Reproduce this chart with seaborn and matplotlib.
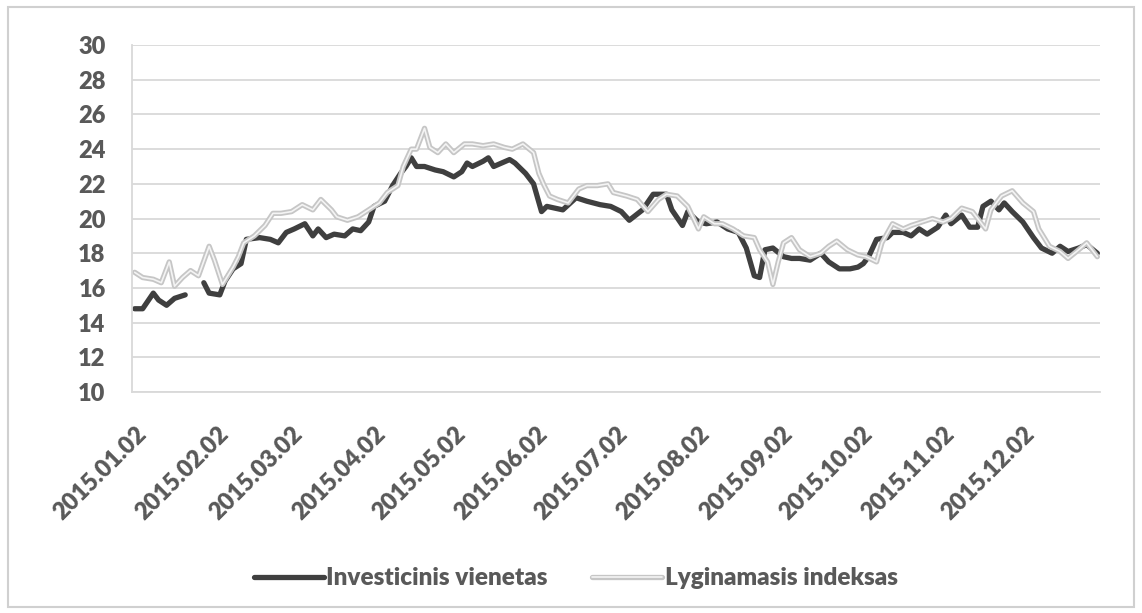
import pandas as pd
import numpy as np
import matplotlib
matplotlib.use("Agg")
import matplotlib.pyplot as plt
import matplotlib.patheffects as pe
import matplotlib.dates as mdates
from matplotlib.patches import Rectangle
import seaborn as sns

# Investicinis vienetas (dark line), NaN = missing data gap
fund_dates = ["2015-01-02", "2015-01-05", "2015-01-09", "2015-01-11", "2015-01-14", "2015-01-17",
              "2015-01-21", "2015-01-24", "2015-01-28", "2015-01-30", "2015-02-03", "2015-02-05",
              "2015-02-08", "2015-02-11", "2015-02-13", "2015-02-18", "2015-02-22", "2015-02-25",
              "2015-02-28", "2015-03-03", "2015-03-07", "2015-03-10", "2015-03-12", "2015-03-15",
              "2015-03-18", "2015-03-22", "2015-03-25", "2015-03-28", "2015-03-31", "2015-04-02",
              "2015-04-06", "2015-04-09", "2015-04-12", "2015-04-14", "2015-04-16", "2015-04-18",
              "2015-04-21", "2015-04-25", "2015-04-28", "2015-05-02", "2015-05-05", "2015-05-07",
              "2015-05-09", "2015-05-13", "2015-05-15", "2015-05-17", "2015-05-20", "2015-05-23",
              "2015-05-25", "2015-05-29", "2015-06-01", "2015-06-04", "2015-06-06", "2015-06-09",
              "2015-06-12", "2015-06-17", "2015-06-21", "2015-06-26", "2015-06-30", "2015-07-04",
              "2015-07-07", "2015-07-12", "2015-07-16", "2015-07-21", "2015-07-23", "2015-07-27",
              "2015-07-29", "2015-08-02", "2015-08-05", "2015-08-09", "2015-08-13", "2015-08-17",
              "2015-08-20", "2015-08-23", "2015-08-25", "2015-08-27", "2015-08-30", "2015-09-03",
              "2015-09-06", "2015-09-09", "2015-09-13", "2015-09-17", "2015-09-20", "2015-09-24",
              "2015-09-28", "2015-10-01", "2015-10-03", "2015-10-05", "2015-10-08", "2015-10-12",
              "2015-10-14", "2015-10-18", "2015-10-21", "2015-10-24", "2015-10-27", "2015-10-31",
              "2015-11-03", "2015-11-05", "2015-11-09", "2015-11-12", "2015-11-15", "2015-11-17",
              "2015-11-20", "2015-11-23", "2015-11-25", "2015-11-28", "2015-12-02", "2015-12-06",
              "2015-12-09", "2015-12-13", "2015-12-16", "2015-12-19", "2015-12-23", "2015-12-26",
              "2015-12-30"]
fund_values = [14.8, 14.8, 15.7, 15.3, 15.0, 15.4,
               15.6, np.nan, 16.3, 15.7, 15.6, 16.4,
               17.1, 17.4, 18.8, 18.9, 18.8, 18.6,
               19.2, 19.4, 19.7, 19.0, 19.4, 18.9,
               19.1, 19.0, 19.4, 19.3, 19.8, 20.7,
               21.0, 21.9, 22.6, 23.0, 23.5, 23.0,
               23.0, 22.8, 22.7, 22.4, 22.7, 23.2,
               23.0, 23.3, 23.5, 23.0, 23.2, 23.4,
               23.2, 22.6, 22.0, 20.4, 20.7, 20.6,
               20.5, 21.2, 21.0, 20.8, 20.7, 20.4,
               19.9, 20.5, 21.4, 21.4, 20.5, 19.6,
               20.4, 19.8, 19.7, 19.8, 19.4, 19.2,
               18.3, 16.7, 16.6, 18.2, 18.3, 17.8,
               17.7, 17.7, 17.6, 18.0, 17.5, 17.1,
               17.1, 17.2, 17.4, 17.8, 18.8, 18.9,
               19.2, 19.2, 19.0, 19.4, 19.1, 19.5,
               20.2, 19.7, 20.2, 19.5, 19.5, 20.7,
               21.0, 20.5, 20.9, 20.4, 19.8, 18.9,
               18.3, 18.0, 18.4, 18.1, 18.3, 18.5,
               18.0]

# Lyginamasis indeksas (light line)
index_dates = ["2015-01-02", "2015-01-05", "2015-01-09", "2015-01-12", "2015-01-15", "2015-01-17",
               "2015-01-20", "2015-01-23", "2015-01-26", "2015-01-30", "2015-02-01", "2015-02-04",
               "2015-02-08", "2015-02-10", "2015-02-12", "2015-02-16", "2015-02-20", "2015-02-23",
               "2015-02-26", "2015-03-02", "2015-03-06", "2015-03-10", "2015-03-13", "2015-03-17",
               "2015-03-19", "2015-03-23", "2015-03-27", "2015-03-31", "2015-04-04", "2015-04-07",
               "2015-04-11", "2015-04-13", "2015-04-16", "2015-04-18", "2015-04-21", "2015-04-23",
               "2015-04-26", "2015-04-29", "2015-05-02", "2015-05-06", "2015-05-09", "2015-05-13",
               "2015-05-17", "2015-05-21", "2015-05-24", "2015-05-28", "2015-06-01", "2015-06-03",
               "2015-06-05", "2015-06-07", "2015-06-10", "2015-06-14", "2015-06-18", "2015-06-21",
               "2015-06-25", "2015-06-29", "2015-07-01", "2015-07-06", "2015-07-10", "2015-07-14",
               "2015-07-18", "2015-07-21", "2015-07-25", "2015-07-29", "2015-08-02", "2015-08-04",
               "2015-08-08", "2015-08-11", "2015-08-15", "2015-08-19", "2015-08-23", "2015-08-25",
               "2015-08-28", "2015-08-30", "2015-09-01", "2015-09-03", "2015-09-06", "2015-09-09",
               "2015-09-13", "2015-09-17", "2015-09-20", "2015-09-23", "2015-09-27", "2015-10-01",
               "2015-10-04", "2015-10-08", "2015-10-10", "2015-10-14", "2015-10-18", "2015-10-21",
               "2015-10-25", "2015-10-29", "2015-11-02", "2015-11-05", "2015-11-09", "2015-11-13",
               "2015-11-18", "2015-11-20", "2015-11-24", "2015-11-28", "2015-12-02", "2015-12-06",
               "2015-12-08", "2015-12-12", "2015-12-16", "2015-12-19", "2015-12-23", "2015-12-26",
               "2015-12-30"]
index_values = [16.9, 16.6, 16.5, 16.3, 17.5, 16.1,
                16.6, 17.0, 16.7, 18.4, 17.6, 16.2,
                17.2, 17.8, 18.6, 19.0, 19.6, 20.3,
                20.3, 20.4, 20.8, 20.5, 21.1, 20.5,
                20.1, 19.9, 20.1, 20.5, 20.9, 21.5,
                21.9, 23.0, 24.0, 24.0, 25.2, 24.1,
                23.8, 24.3, 23.8, 24.3, 24.3, 24.2,
                24.3, 24.1, 24.0, 24.3, 23.8, 22.6,
                21.9, 21.3, 21.1, 20.9, 21.7, 21.9,
                21.9, 22.0, 21.5, 21.3, 21.1, 20.4,
                21.1, 21.4, 21.3, 20.7, 19.4, 20.1,
                19.7, 19.7, 19.4, 19.0, 18.9, 18.2,
                17.5, 16.2, 17.5, 18.6, 18.9, 18.2,
                17.8, 18.0, 18.4, 18.7, 18.2, 17.9,
                17.8, 17.5, 18.6, 19.7, 19.4, 19.6,
                19.8, 20.0, 19.8, 20.0, 20.6, 20.4,
                19.4, 20.5, 21.3, 21.6, 20.9, 20.4,
                19.4, 18.4, 18.1, 17.7, 18.2, 18.6,
                17.8]

tick_dates = ["2015-01-02", "2015-02-02", "2015-03-02", "2015-04-02", "2015-05-02", "2015-06-02",
              "2015-07-02", "2015-08-02", "2015-09-02", "2015-10-02", "2015-11-02", "2015-12-02"]

sns.set_theme(style="white")
plt.rcParams["font.family"] = ["Lato", "DejaVu Sans"]
plt.rcParams["font.weight"] = "bold"
text_col = "#595959"

fund = pd.DataFrame({"data": pd.to_datetime(fund_dates), "kaina": fund_values})
# split the line where values are missing so the gap stays visible
fund["dalis"] = fund["kaina"].isna().cumsum()
fund = fund.dropna()
bench = pd.DataFrame({"data": pd.to_datetime(index_dates), "kaina": index_values})

fig = plt.figure(figsize=(11.42, 6.13), dpi=100)
ax = fig.add_axes([0.1156, 0.3605, 0.8476, 0.566])

sns.lineplot(data=fund, x="data", y="kaina", units="dalis", estimator=None,
             color="#3f3f3f", linewidth=3.8, ax=ax)
sns.lineplot(data=bench, x="data", y="kaina", color="#f4f4f4", linewidth=1.2, ax=ax)
lines = ax.get_lines()
dark = lines[0]
light = lines[-1]
light.set_path_effects([pe.Stroke(linewidth=3.8, foreground="#c6c6c6"), pe.Normal()])

ax.set_ylim(10, 30)
ax.set_yticks(range(10, 31, 2))
ax.set_xlim(pd.Timestamp("2015-01-01"), pd.Timestamp("2015-12-31"))
ax.set_xticks(pd.to_datetime(tick_dates))
ax.xaxis.set_major_formatter(mdates.DateFormatter("%Y.%m.%d"))
ax.set_xlabel("")
ax.set_ylabel("")

ax.grid(axis="y", color="#d9d9d9", linewidth=1.3)
ax.set_axisbelow(True)
for s in ["top", "right"]:
    ax.spines[s].set_visible(False)
for s in ["left", "bottom"]:
    ax.spines[s].set_color("#d9d9d9")
    ax.spines[s].set_linewidth(1.3)

ax.tick_params(axis="y", length=0, pad=19, labelsize=17, labelcolor=text_col)
ax.tick_params(axis="x", length=0, pad=22, labelsize=17, labelcolor=text_col)
for lbl in ax.get_yticklabels():
    lbl.set_fontweight("heavy")
for lbl in ax.get_xticklabels():
    lbl.set_fontweight("heavy")
    lbl.set_rotation(45)
    lbl.set_ha("right")
    lbl.set_rotation_mode("anchor")

leg = ax.legend([dark, light], ["Investicinis vienetas", "Lyginamasis indeksas"],
                loc="center", bbox_to_anchor=(0.504, 0.057), bbox_transform=fig.transFigure,
                ncol=2, frameon=False, handlelength=2.9, handletextpad=0.1,
                columnspacing=1.8, prop={"size": 17.5, "weight": "heavy"})
for t in leg.get_texts():
    t.set_color(text_col)

fig.patches.append(Rectangle((0.007, 0.01), 0.986, 0.978, transform=fig.transFigure,
                             fill=False, edgecolor="#d0d0d0", linewidth=1.5))

fig.savefig("out.png", dpi=100)
